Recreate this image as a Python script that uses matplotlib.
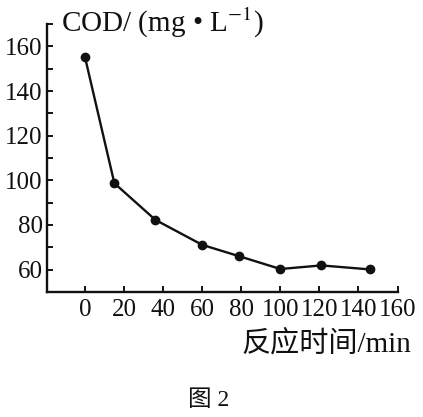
import matplotlib
matplotlib.use("Agg")
import matplotlib.pyplot as plt
from matplotlib.ticker import FixedLocator

# Data
time_min = [0, 15, 36, 60, 79, 100, 121, 146]
cod_vals = [155, 98.7, 82.3, 71.1, 66, 60.3, 61.9, 60.1]
x_ticks = [0, 20, 40, 60, 80, 100, 120, 140, 160]
y_ticks = [60, 80, 100, 120, 140, 160]
y_minor = [50, 70, 90, 110, 130, 150, 170]
y_label = "COD/ (mg • L$^{-1}$)"
x_label = "反应时间/min"
caption = "图 2"

plt.rcParams['mathtext.fontset'] = 'stix'
serif = ['Liberation Serif', 'Noto Sans CJK SC', 'DejaVu Serif']
plt.rcParams['font.family'] = serif

W, H = 423, 417
fig = plt.figure(figsize=(W / 100, H / 100), dpi=100)
left_px, right_px, top_px, bottom_px = 47, 397.5, 24, 292
ax = fig.add_axes([left_px / W, 1 - bottom_px / H,
                   (right_px - left_px) / W, (bottom_px - top_px) / H])

ax.plot(time_min, cod_vals, color='#111111', lw=1.7, marker='o',
        markersize=6, markerfacecolor='#111111', markeredgecolor='#111111',
        clip_on=False)

ax.set_xlim(-19.5, 160)
ax.set_ylim(50, 170)
for s in ['top', 'right']:
    ax.spines[s].set_visible(False)
for s in ['left', 'bottom']:
    ax.spines[s].set_linewidth(1.7)
    ax.spines[s].set_color('#111111')

ax.xaxis.set_major_locator(FixedLocator(x_ticks))
ax.yaxis.set_major_locator(FixedLocator(y_ticks))
ax.yaxis.set_minor_locator(FixedLocator(y_minor))
ax.tick_params(axis='both', which='both', direction='in', length=4,
               width=1.4, color='#111111')
ax.tick_params(axis='y', which='major', pad=3, labelsize=18)
ax.tick_params(axis='x', which='major', pad=5, labelsize=18)
for lab in ax.get_xticklabels() + ax.get_yticklabels():
    lab.set_family(serif)
    lab.set_color('#111111')

fig.text(61 / W, 1 - 6 / H, y_label, ha='left', va='top', fontsize=21,
         color='#111111', family=serif)
fig.text(411 / W, 1 - 344 / H, x_label, ha='right', va='center', fontsize=21,
         color='#111111', family=serif)
fig.text(209 / W, 1 - 400 / H, caption, ha='center', va='center', fontsize=17,
         color='#111111', family=serif)

fig.savefig('out.png', dpi=100, facecolor='white')
